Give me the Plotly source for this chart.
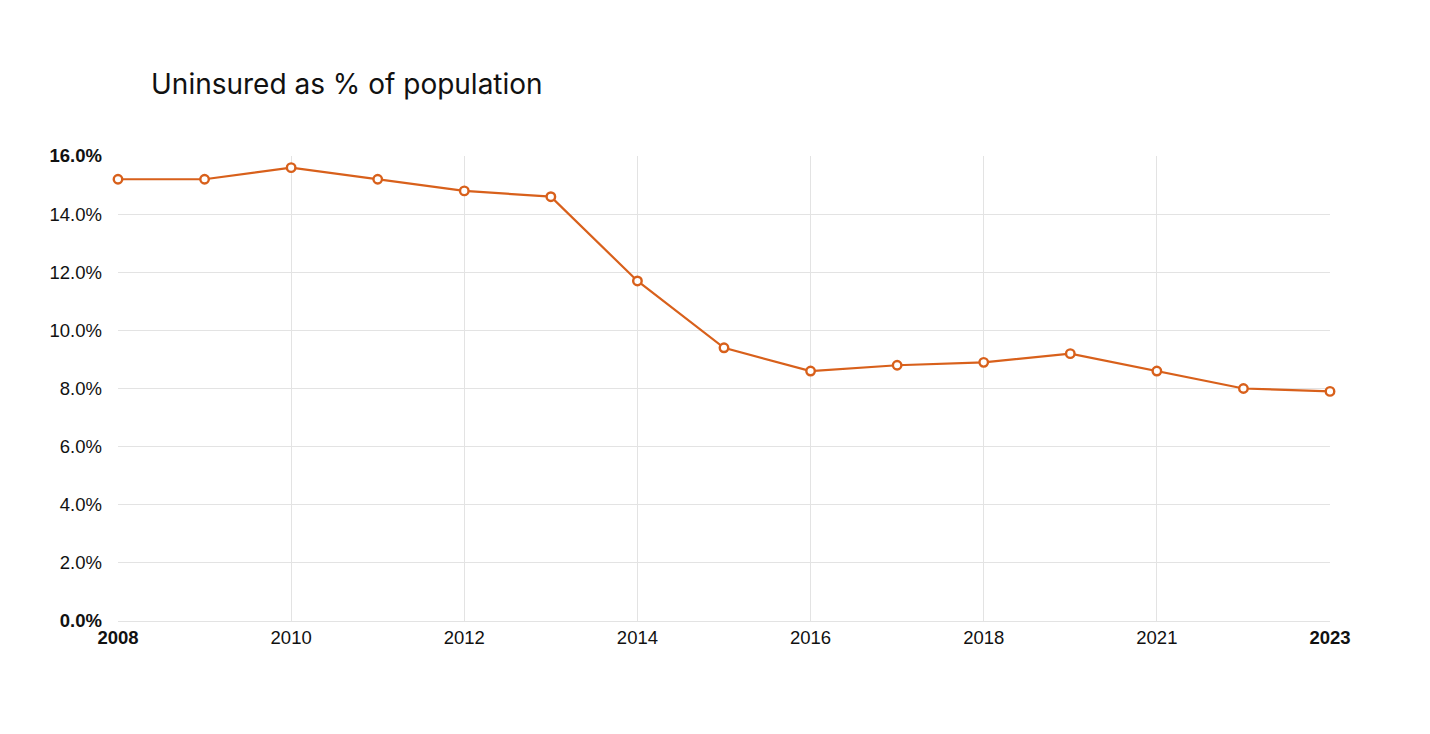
import plotly.graph_objects as go

years = ["2008", "2009", "2010", "2011", "2012", "2013", "2014", "2015",
         "2016", "2017", "2018", "2019", "2021", "2022", "2023"]
uninsured_pct = [15.2, 15.2, 15.6, 15.2, 14.8, 14.6, 11.7, 9.4,
                 8.6, 8.8, 8.9, 9.2, 8.6, 8.0, 7.9]
x_tick_years = ["2008", "2010", "2012", "2014", "2016", "2018", "2021", "2023"]
y_tick_vals = [0, 2, 4, 6, 8, 10, 12, 14, 16]

x_ticktext = [f"<b>{y}</b>" if y in ("2008", "2023") else y for y in x_tick_years]
y_ticktext = [f"<b>{v:.1f}%</b>" if v in (0, 16) else f"{v:.1f}%" for v in y_tick_vals]

color = "#D8601B"

fig = go.Figure()
fig.add_trace(go.Scatter(
    x=years, y=uninsured_pct, mode="lines+markers",
    line=dict(color=color, width=2.2),
    marker=dict(symbol="circle", size=8.5, color="white", line=dict(color=color, width=2.4)),
    cliponaxis=False, showlegend=False,
))

fig.update_layout(
    width=1430, height=734,
    paper_bgcolor="white", plot_bgcolor="white",
    margin=dict(l=110, r=108, t=148, b=121),
    title=dict(text="Uninsured as % of population", x=143 / 1430, xanchor="left",
               y=1 - 76 / 734, yanchor="middle",
               font=dict(family="Inter, Noto Sans, sans-serif", size=28, color="#111111")),
    font=dict(family="Liberation Sans, Arial, sans-serif", size=18.5, color="#222222"),
)
fig.update_xaxes(
    type="category", categoryorder="array", categoryarray=years,
    range=[0, len(years) - 1],
    tickmode="array", tickvals=x_tick_years, ticktext=x_ticktext,
    showgrid=True, gridcolor="#E3E3E3", gridwidth=1,
    showline=False, zeroline=False, ticks="", ticklabelstandoff=3,
    tickfont=dict(size=18.5, color="#111111"),
)
fig.update_yaxes(
    range=[0, 16], tickmode="array", tickvals=y_tick_vals, ticktext=y_ticktext,
    showgrid=True, gridcolor="#E3E3E3", gridwidth=1,
    zeroline=True, zerolinecolor="#E3E3E3", zerolinewidth=1,
    showline=False, ticks="", ticklabelstandoff=15,
    tickfont=dict(size=18.5, color="#111111"),
)

fig.write_html("out.html")
